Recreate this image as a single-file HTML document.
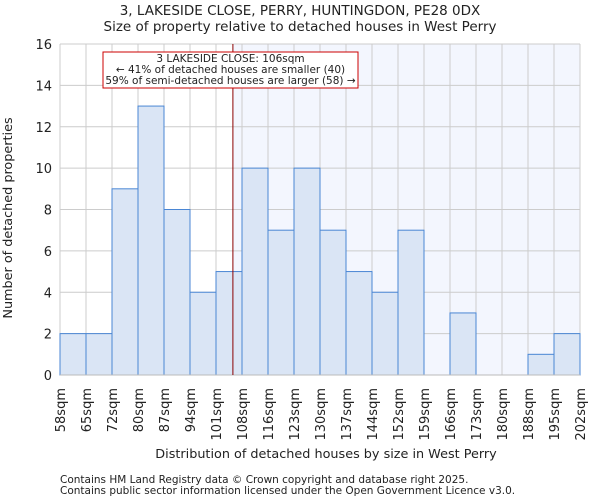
<!DOCTYPE html>
<html><head><meta charset="utf-8"><style>
body{margin:0;background:#fff;font-family:"DejaVu Sans","Liberation Sans",sans-serif;}
svg text{font-family:"DejaVu Sans","Liberation Sans",sans-serif;fill:#222;}
</style></head><body>
<svg id="chart" width="600" height="500" xmlns="http://www.w3.org/2000/svg">
<text x="300" y="15" font-size="13.5" text-anchor="middle">3, LAKESIDE CLOSE, PERRY, HUNTINGDON, PE28 0DX</text>
<text x="300" y="31" font-size="13.5" text-anchor="middle">Size of property relative to detached houses in West Perry</text>
<g id="plot"></g>
<text x="326" y="458" font-size="12.8" text-anchor="middle">Distribution of detached houses by size in West Perry</text>
<text x="12" y="218" font-size="12.8" text-anchor="middle" transform="rotate(-90 12 218)">Number of detached properties</text>
<text x="60" y="483" font-size="10.5" fill="#444">Contains HM Land Registry data © Crown copyright and database right 2025.</text>
<text x="60" y="494" font-size="10.5" fill="#444">Contains public sector information licensed under the Open Government Licence v3.0.</text>
</svg>
<script>
const binLabels=["58sqm","65sqm","72sqm","80sqm","87sqm","94sqm","101sqm","108sqm","116sqm","123sqm","130sqm","137sqm","144sqm","152sqm","159sqm","166sqm","173sqm","180sqm","188sqm","195sqm","202sqm"];
const counts=[2,2,9,13,8,4,5,10,7,10,7,5,4,7,0,3,0,0,1,2];
const yTicks=[0,2,4,6,8,10,12,14,16];
const markerBin=6.65;
const NS="http://www.w3.org/2000/svg";
const g=document.getElementById('plot');
const X0=60,X1=580,Y0=375,Y1=44,YMAX=16;
const bw=(X1-X0)/counts.length;
const x=i=>X0+i*bw, y=v=>Y0-(v/YMAX)*(Y0-Y1);
function mk(t,a){const e=document.createElementNS(NS,t);for(const k in a)e.setAttribute(k,a[k]);g.appendChild(e);return e;}
const mx=x(markerBin);
let e=mk('rect',{x:mx,y:Y1,width:X1-mx,height:Y0-Y1,fill:'#f3f6fe'});


yTicks.forEach(t=>{
 let l=mk('line',{x1:X0,x2:X1,y1:y(t),y2:y(t),stroke:'#cccccc','stroke-width':1});
 
 
 let tx=mk('text',{x:X0-8,y:y(t)+5,'font-size':13,'text-anchor':'end'});tx.textContent=t;
 
 
});
binLabels.forEach((s,i)=>{
 let l=mk('line',{x1:x(i),x2:x(i),y1:Y1,y2:Y0,stroke:'#cccccc','stroke-width':1});
 
 
 let tx=mk('text',{x:0,y:0,'font-size':13,'text-anchor':'end',transform:`translate(${x(i)+5},${Y0+13}) rotate(-90)`});tx.textContent=s;
 
 
});
counts.forEach((c,i)=>{
 if(c<=0)return;
 let r=mk('rect',{x:x(i),y:y(c),width:bw,height:Y0-y(c),fill:'#dae5f5',stroke:'#4a86d4','stroke-width':1});
 
 
});
e=mk('line',{x1:X0,x2:X1,y1:Y0,y2:Y0,stroke:'#bbbbbb','stroke-width':1});


e=mk('line',{x1:mx,x2:mx,y1:Y1,y2:Y0,stroke:'#8b0000','stroke-width':1});


e=mk('rect',{x:103,y:52,width:255,height:36,fill:'#fff',stroke:'#cc0000','stroke-width':1});


["3 LAKESIDE CLOSE: 106sqm","← 41% of detached houses are smaller (40)","59% of semi-detached houses are larger (58) →"].forEach((s,i)=>{
 let t=mk('text',{x:230.5,y:62+i*11,'font-size':10.5,'text-anchor':'middle'});t.textContent=s;
 
 
});
</script>
</body></html>
